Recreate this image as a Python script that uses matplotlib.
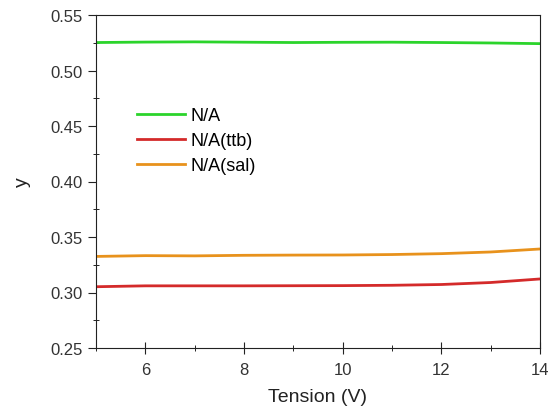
import numpy as np
import matplotlib.pyplot as plt
from matplotlib.ticker import MultipleLocator

plt.rcParams['font.family'] = ['Liberation Sans', 'DejaVu Sans']

# values
tension = [5, 6, 7, 8, 9, 10, 11, 12, 13, 14]
y_na = [0.5252, 0.5256, 0.5258, 0.5255, 0.5252, 0.5254, 0.5255, 0.5252, 0.5248, 0.5242]
y_ttb = [0.3052, 0.3060, 0.3060, 0.3060, 0.3061, 0.3062, 0.3065, 0.3072, 0.3090, 0.3122]
y_sal = [0.3325, 0.3332, 0.3330, 0.3335, 0.3337, 0.3338, 0.3342, 0.3350, 0.3365, 0.3392]

labels = ['N/A', 'N/A(ttb)', 'N/A(sal)']
colors = ['#2bd42b', '#d42a2a', '#e8921c']

fig = plt.figure(figsize=(5.54, 4.14), dpi=100)
ax = fig.add_axes([96 / 554, 65 / 414, 444 / 554, 333 / 414])

for ys, lab, c in zip([y_na, y_ttb, y_sal], labels, colors):
    ax.plot(tension, ys, color=c, linewidth=2, label=lab)

ax.set_xlim(5, 14)
ax.set_ylim(0.25, 0.55)
ax.xaxis.set_major_locator(MultipleLocator(2))
ax.xaxis.set_minor_locator(MultipleLocator(1))
ax.yaxis.set_major_locator(MultipleLocator(0.05))
ax.yaxis.set_minor_locator(MultipleLocator(0.025))
ax.yaxis.set_major_formatter(plt.FormatStrFormatter('%.2f'))

ax.tick_params(axis='both', which='major', labelsize=12, color='#222222', labelcolor='#333333')
ax.tick_params(axis='x', which='major', direction='inout', length=8, pad=6)
ax.tick_params(axis='x', which='minor', direction='inout', length=5)
ax.tick_params(axis='y', which='major', direction='out', length=6)
ax.tick_params(axis='y', which='minor', direction='inout', length=5)
for sp in ax.spines.values():
    sp.set_color('#222222')

ax.set_xlabel('Tension (V)', fontsize=14, color='#222222', labelpad=8)
ax.set_ylabel('y', fontsize=14, color='#222222', labelpad=14)

ax.legend(loc='upper left', bbox_to_anchor=(0.077, 0.745), frameon=False,
          fontsize=13, handlelength=2.65, handletextpad=0.3, labelspacing=0.45,
          borderaxespad=0)

fig.savefig('out.png', dpi=100)
